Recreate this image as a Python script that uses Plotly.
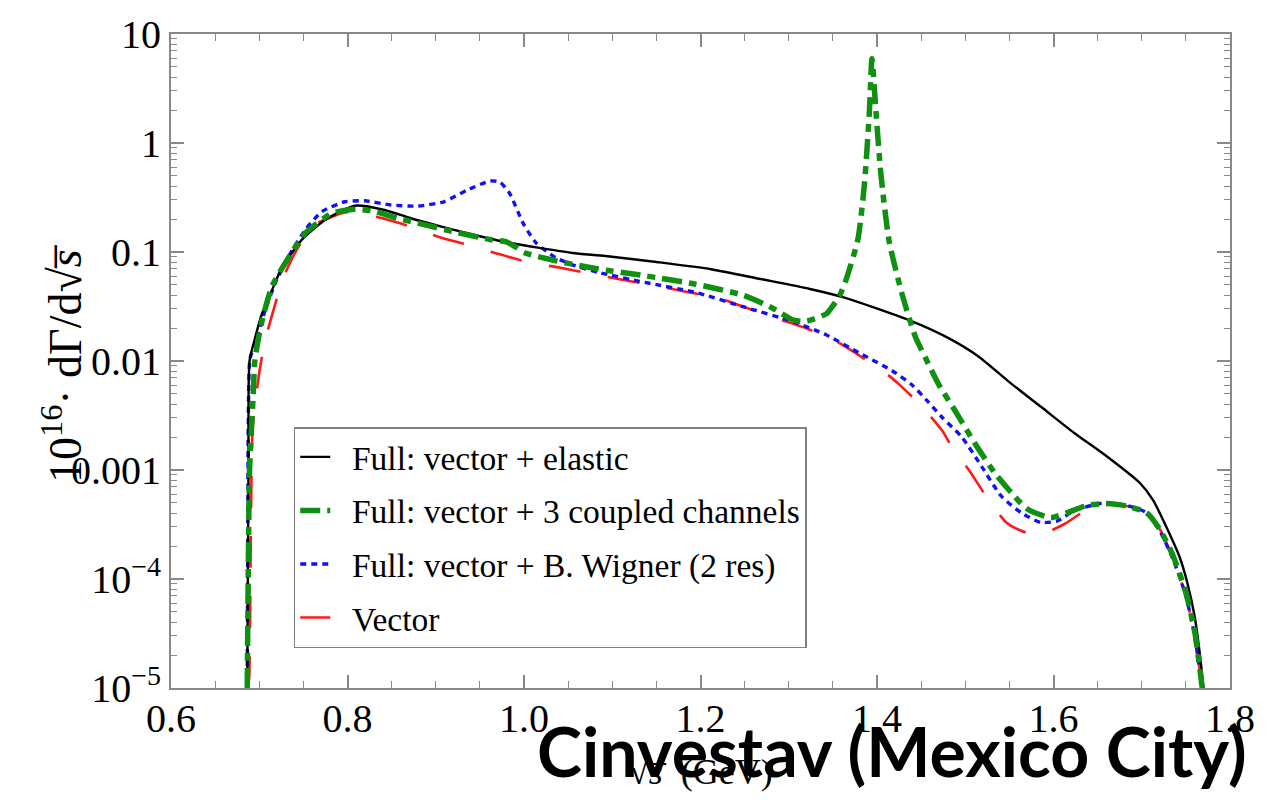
import plotly.graph_objects as go

# sqrt(s) in GeV and 1e16 * dGamma/dsqrt(s) for each model
x_elastic = [0.6864, 0.6871, 0.6878, 0.6890, 0.6950, 0.7030, 0.7120, 0.7250, 0.7484,
             0.7746, 0.8083, 0.8419, 0.8717, 0.9054, 0.9428, 0.9802, 1.0175, 1.0550,
             1.0923, 1.1500, 1.2120, 1.2680, 1.3240, 1.3614, 1.4363, 1.4811, 1.5150,
             1.5500, 1.5858, 1.6231, 1.6606, 1.6979, 1.7128, 1.7279, 1.7428, 1.7520,
             1.7600, 1.7660, 1.7700]
y_elastic = [1e-5, 1e-4, 1e-3, 0.010, 0.016, 0.027, 0.040, 0.070, 0.130,
             0.197, 0.266, 0.243, 0.204, 0.172, 0.144, 0.123, 0.109, 0.098,
             0.092, 0.081, 0.0695, 0.0565, 0.0458, 0.0385, 0.0237, 0.0162, 0.0110,
             0.0064, 0.0038, 0.0022, 0.00133, 0.00076, 0.00053, 0.00030, 0.00016, 9e-5,
             4.5e-5, 2e-5, 1e-5]

x_coupled = [0.6864, 0.6875, 0.6890, 0.6930, 0.6950, 0.6990, 0.7040, 0.7147, 0.7298,
             0.7522, 0.7820, 0.8044, 0.8269, 0.8568, 0.8868, 0.9241, 0.9615, 0.9800,
             0.9900, 1.0000, 1.0362, 1.0811, 1.1372, 1.1933, 1.2493, 1.2793, 1.3054,
             1.3203, 1.3428, 1.3503, 1.3578, 1.3652, 1.3783, 1.3858, 1.3914, 1.3943,
             1.3988, 1.4044, 1.4138, 1.4288, 1.4437, 1.4549, 1.4699, 1.4885, 1.5110,
             1.5334, 1.5521, 1.5708, 1.5970, 1.6157, 1.6381, 1.6606, 1.6830, 1.7054,
             1.7203, 1.7353, 1.7500, 1.7600, 1.7685]
y_coupled = [1e-5, 1e-4, 1e-3, 0.0046, 0.010, 0.016, 0.025, 0.049, 0.080,
             0.149, 0.226, 0.246, 0.239, 0.204, 0.178, 0.151, 0.130, 0.124,
             0.112, 0.099, 0.083, 0.0705, 0.0605, 0.0509, 0.0399, 0.0313, 0.0237,
             0.0232, 0.0272, 0.0324, 0.040, 0.0565, 0.130, 0.424, 1.95, 5.94,
             1.95, 0.52, 0.125, 0.040, 0.0165, 0.0107, 0.0061, 0.0035, 0.00175,
             0.00094, 0.00062, 0.000436, 0.000366, 0.000406, 0.000473, 0.000493, 0.000467, 0.000406,
             0.000287, 0.000165, 7.5e-5, 3.3e-5, 1e-5]

x_bw = [0.6864, 0.6868, 0.6872, 0.6880, 0.6895, 0.6961, 0.7073, 0.7185, 0.7335,
        0.7522, 0.7708, 0.7970, 0.8195, 0.8493, 0.8792, 0.9092, 0.9353, 0.9614,
        0.9727, 0.9839, 0.9989, 1.0138, 1.0362, 1.0587, 1.0848, 1.1372, 1.1933,
        1.2493, 1.3054, 1.3428, 1.3802, 1.4176, 1.4400, 1.4570, 1.4736, 1.4960, 1.5185,
        1.5409, 1.5633, 1.5858, 1.6045, 1.6231, 1.6531, 1.6830, 1.7054, 1.7203,
        1.7353, 1.7500, 1.7600, 1.7685]
y_bw = [1e-5, 1e-4, 1e-3, 0.005, 0.0105, 0.0151, 0.0302, 0.0526, 0.0918,
        0.160, 0.234, 0.289, 0.295, 0.270, 0.264, 0.289, 0.369, 0.448,
        0.438, 0.343, 0.184, 0.121, 0.0885, 0.0745, 0.0649, 0.0526, 0.0428,
        0.0313, 0.0229, 0.0173, 0.0118, 0.0081, 0.0060, 0.0043, 0.00305, 0.00201, 0.00108,
        0.000575, 0.000406, 0.00033, 0.000341, 0.000421, 0.000493, 0.000473, 0.000406, 0.000277,
        0.000153, 7e-5, 3e-5, 1e-5]

x_vector = [0.6870, 0.6886, 0.6905, 0.6923, 0.6957, 0.7002, 0.7073, 0.7166, 0.7265,
            0.7428, 0.7634, 0.7970, 0.8195, 0.8325, 0.8717, 0.9017, 0.9353, 0.9690,
            1.0063, 1.0399, 1.0774, 1.0923, 1.1111, 1.1484, 1.1821, 1.2232, 1.2493,
            1.2867, 1.3203, 1.3540, 1.3839, 1.4138, 1.4250, 1.4500, 1.4736, 1.4848, 1.5053,
            1.5260, 1.5465, 1.5633, 1.5820, 1.6119, 1.6418, 1.6680, 1.6979, 1.7203,
            1.7353, 1.7500, 1.7600, 1.7685]
y_vector = [1e-5, 1.26e-5, 2.87e-4, 0.0023, 0.0042, 0.0080, 0.0162, 0.0302, 0.0565,
            0.106, 0.178, 0.230, 0.226, 0.211, 0.171, 0.139, 0.117, 0.097,
            0.080, 0.072, 0.0627, 0.0596, 0.0557, 0.0491, 0.0434, 0.0372, 0.0313,
            0.0245, 0.0199, 0.0151, 0.0107, 0.0073, 0.0061, 0.0039, 0.00231, 0.00163, 0.00097,
            0.000536, 0.00033, 0.000277, 0.00025, 0.000318, 0.000451, 0.000483, 0.000436, 0.000287,
            0.000153, 7e-5, 3e-5, 1e-5]

x_tickvals = [0.6, 0.8, 1.0, 1.2, 1.4, 1.6, 1.8]
x_ticktext = ["0.6", "0.8", "1.0", "1.2", "1.4", "1.6", "1.8"]
y_tickvals = [1e-5, 1e-4, 1e-3, 1e-2, 1e-1, 1, 10]
y_ticktext = ["10<sup>\u22125</sup>", "10<sup>\u22124</sup>", "0.001", "0.01", "0.1", "1", "10"]

serif = "Liberation Serif, Times New Roman, serif"
frame_col = "#888888"
pad = "\u00a0\u00a0"  # gap between legend sample and label

fig = go.Figure()

fig.add_trace(go.Scatter(
    x=x_vector, y=y_vector, mode="lines", name=pad + "Vector", legendrank=4,
    legendgroup="d", line=dict(color="#ff1a1a", width=2.6, dash="32px,28px", shape="spline", smoothing=0.6)))
fig.add_trace(go.Scatter(
    x=x_bw, y=y_bw, mode="lines", name=pad + "Full: vector + B. Wigner (2 res)", legendrank=3,
    legendgroup="c", line=dict(color="#1010ff", width=3.4, dash="6px,5px", shape="spline", smoothing=0.6)))
fig.add_trace(go.Scatter(
    x=x_elastic, y=y_elastic, mode="lines", name=pad + "Full: vector + elastic", legendrank=1,
    legendgroup="a", line=dict(color="black", width=2.4, shape="spline", smoothing=0.6)))
fig.add_trace(go.Scatter(
    x=x_coupled, y=y_coupled, mode="lines", name=pad + "Full: vector + 3 coupled channels", legendrank=2,
    legendgroup="b", line=dict(color="#109010", width=5.5, dash="20px,7px,8px,7px", shape="spline", smoothing=0.6)))

y_minor = [k * 10.0 ** e for e in range(-5, 1) for k in range(2, 10)]
x_minor = [round(0.6 + 0.05 * i, 2) for i in range(25)]

fig.update_xaxes(
    range=[0.6, 1.8], tickvals=x_tickvals, ticktext=x_ticktext,
    ticks="inside", ticklen=13, tickcolor=frame_col, tickwidth=1.6,
    showline=True, linecolor=frame_col, linewidth=1.8, mirror="allticks",
    showgrid=False, zeroline=False, ticklabelstandoff=-6,
    tickfont=dict(family=serif, size=40, color="black"),
    minor=dict(tickvals=x_minor, ticks="inside", ticklen=7,
               tickcolor=frame_col, tickwidth=1.3, showgrid=False),
)
fig.update_yaxes(
    type="log", range=[-5, 1], tickvals=y_tickvals, ticktext=y_ticktext,
    ticks="inside", ticklen=13, tickcolor=frame_col, tickwidth=1.6,
    showline=True, linecolor=frame_col, linewidth=1.8, mirror="allticks",
    showgrid=False, zeroline=False,
    tickfont=dict(family=serif, size=40, color="black"),
    minor=dict(tickvals=y_minor, ticks="inside", ticklen=6,
               tickcolor=frame_col, tickwidth=1.3, showgrid=False),
)

fig.update_layout(
    width=1267, height=800,
    margin=dict(l=171, r=26, t=25, b=112),
    paper_bgcolor="white", plot_bgcolor="white",
    showlegend=True,
    legend=dict(
        x=0.1159, y=0.399, xanchor="left", yanchor="top",
        bgcolor="white", bordercolor="#808080", borderwidth=1.5,
        font=dict(family=serif, size=33.5, color="black"),
        tracegroupgap=7, itemwidth=30,
    ),
    annotations=[
        dict(text="10<sup>16</sup>\u00b7 d\u0393/d\u221a<i>s\u0305</i>", xref="paper", yref="paper",
             x=-0.103, y=0.497, xanchor="center", yanchor="middle", textangle=-90,
             showarrow=False, font=dict(family=serif, size=46, color="black")),
        dict(text="\u221a<i>s\u0305</i>  (GeV)", xref="paper", yref="paper",
             x=0.50, y=-0.128, xanchor="center", yanchor="middle",
             showarrow=False, font=dict(family=serif, size=36, color="black")),
        dict(text="<b>Cinvestav (Mexico City)</b>", xref="paper", yref="paper",
             x=0.681, y=-0.096, xanchor="center", yanchor="middle",
             showarrow=False, font=dict(family="Lato, Open Sans, sans-serif", size=68, color="black")),
    ],
)

fig.write_html("out.html")
